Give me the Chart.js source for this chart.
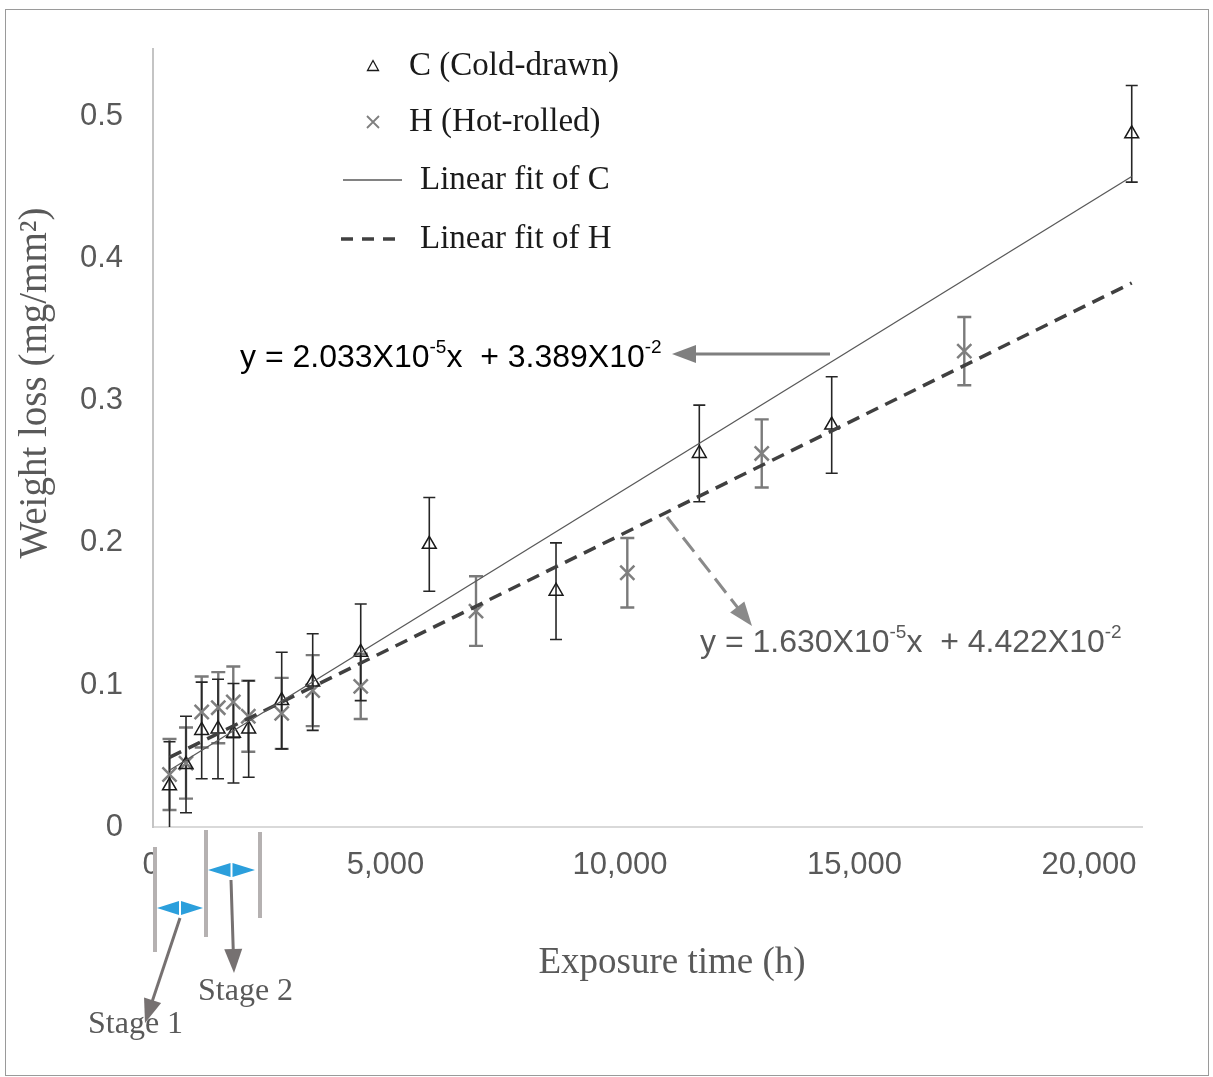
<!DOCTYPE html>
<html><head><meta charset="utf-8">
<script src="https://cdn.jsdelivr.net/npm/chart.js@4/dist/chart.umd.min.js"></script>
<style>html,body{margin:0;padding:0;background:#fff;}#wrap{position:relative;width:1213px;height:1077px;}</style>
</head><body><div id="wrap"><canvas id="c" width="1213" height="1077"></canvas></div>
<script>
// ---- data ----
const hoursC = [352, 704, 1038, 1386, 1716, 2040, 2744, 3405, 4429, 5891, 8593, 11648, 14471, 20868];
const lossC  = [0.029, 0.044, 0.068, 0.069, 0.066, 0.069, 0.089, 0.102, 0.123, 0.199, 0.166, 0.263, 0.283, 0.488];
const errC   = [0.031, 0.034, 0.034, 0.035, 0.035, 0.034, 0.034, 0.034, 0.034, 0.033, 0.034, 0.034, 0.034, 0.034];
const hoursH = [352, 704, 1038, 1392, 1712, 2032, 2744, 3405, 4429, 6887, 10113, 12979, 17298];
const lossH  = [0.037, 0.045, 0.081, 0.084, 0.088, 0.078, 0.080, 0.096, 0.099, 0.152, 0.179, 0.263, 0.335];
const errH   = [0.025, 0.025, 0.025, 0.025, 0.025, 0.025, 0.025, 0.025, 0.023, 0.0245, 0.0245, 0.024, 0.024];
const fitHours = [352, 20868];
const fitC = [0.040, 0.458];
const fitH = [0.049, 0.383];
const xTicks = [0, 5000, 10000, 15000, 20000];
const yTicks = [0, 0.1, 0.2, 0.3, 0.4, 0.5];
const legendLabels = ['C (Cold-drawn)', 'H (Hot-rolled)', 'Linear fit of C', 'Linear fit of H'];
const eqC = ['y = 2.033X10', '-5', 'x  + 3.389X10', '-2'];
const eqH = ['y = 1.630X10', '-5', 'x  + 4.422X10', '-2'];
const xTitle = 'Exposure time (h)';
const yTitle = 'Weight loss (mg/mm\u00B2)';
const stageLabels = ['Stage 1', 'Stage 2'];

const pts = (xs, ys) => xs.map((x, i) => ({x: x, y: ys[i]}));
const SANS = '"Liberation Sans", Arial, sans-serif';
const SERIF = '"Liberation Serif", "Times New Roman", serif';

function drawErr(chart, xs, ys, es, color, lw, cap) {
  const ctx = chart.ctx, xS = chart.scales.x, yS = chart.scales.y;
  ctx.save();
  ctx.beginPath();
  ctx.rect(chart.chartArea.left, chart.chartArea.top, chart.chartArea.right - chart.chartArea.left, chart.chartArea.bottom - chart.chartArea.top);
  ctx.clip();
  ctx.strokeStyle = color; ctx.lineWidth = lw;
  for (let i = 0; i < xs.length; i++) {
    const px = xS.getPixelForValue(xs[i]);
    const lo = ys[i] - es[i];
    const top = yS.getPixelForValue(ys[i] + es[i]);
    const bot = yS.getPixelForValue(Math.max(0, lo));
    ctx.beginPath();
    ctx.moveTo(px, top); ctx.lineTo(px, bot);
    ctx.moveTo(px - cap, top); ctx.lineTo(px + cap, top);
    if (lo > 0) { ctx.moveTo(px - cap, bot); ctx.lineTo(px + cap, bot); }
    ctx.stroke();
  }
  ctx.restore();
}

function arrow(ctx, x1, y1, x2, y2, color, lw, headLen, headW, dash) {
  const dx = x2 - x1, dy = y2 - y1, L = Math.hypot(dx, dy), ux = dx / L, uy = dy / L;
  const bx = x2 - ux * headLen, by = y2 - uy * headLen;
  ctx.save();
  ctx.strokeStyle = color; ctx.fillStyle = color; ctx.lineWidth = lw;
  if (dash) ctx.setLineDash(dash);
  ctx.beginPath(); ctx.moveTo(x1, y1); ctx.lineTo(bx + ux * 2, by + uy * 2); ctx.stroke();
  ctx.setLineDash([]);
  ctx.beginPath();
  ctx.moveTo(x2, y2);
  ctx.lineTo(bx - uy * headW, by + ux * headW);
  ctx.lineTo(bx + uy * headW, by - ux * headW);
  ctx.closePath(); ctx.fill();
  ctx.restore();
}

function blueDouble(ctx, x1, x2, y) {
  const mid = (x1 + x2) / 2;
  ctx.save();
  ctx.fillStyle = '#2b9fdc';
  ctx.beginPath(); ctx.moveTo(x1, y); ctx.lineTo(mid - 1, y - 7); ctx.lineTo(mid - 1, y + 7); ctx.closePath(); ctx.fill();
  ctx.beginPath(); ctx.moveTo(x2, y); ctx.lineTo(mid + 1, y - 7); ctx.lineTo(mid + 1, y + 7); ctx.closePath(); ctx.fill();
  ctx.strokeStyle = '#ffffff'; ctx.lineWidth = 1;
  ctx.beginPath(); ctx.moveTo(mid, y - 7); ctx.lineTo(mid, y - 2); ctx.moveTo(mid, y + 2); ctx.lineTo(mid, y + 7); ctx.stroke();
  ctx.restore();
}

function supText(ctx, parts, x, y, size, color) {
  ctx.save();
  ctx.fillStyle = color; ctx.textBaseline = 'alphabetic'; ctx.textAlign = 'left';
  let cx = x;
  parts.forEach((p, i) => {
    const sup = i % 2 === 1;
    ctx.font = (sup ? Math.round(size * 0.6) : size) + 'px ' + SANS;
    ctx.fillText(p, cx, sup ? y - size * 0.45 : y);
    cx += ctx.measureText(p).width;
  });
  ctx.restore();
}

const errPlugin = {
  id: 'errbars',
  beforeDatasetsDraw(chart) {
    drawErr(chart, hoursH, lossH, errH, '#7a7a7a', 2.4, 7);
    drawErr(chart, hoursC, lossC, errC, '#262626', 1.6, 6);
  }
};

const annoPlugin = {
  id: 'anno',
  afterDraw(chart) {
    const ctx = chart.ctx;
    ctx.save();
    // frame
    ctx.strokeStyle = '#9a9a9a'; ctx.lineWidth = 1;
    ctx.strokeRect(5.5, 9.5, 1203, 1066);

    // axis titles
    ctx.fillStyle = '#595959';
    ctx.textAlign = 'center'; ctx.textBaseline = 'middle';
    ctx.font = '37px ' + SERIF;
    ctx.fillText(xTitle, 672, 963);
    ctx.save();
    ctx.translate(36, 383); ctx.rotate(-Math.PI / 2);
    ctx.font = '39px ' + SERIF;
    ctx.fillText(yTitle, 0, 0);
    ctx.restore();

    // legend
    ctx.fillStyle = '#1a1a1a'; ctx.textAlign = 'left'; ctx.textBaseline = 'middle';
    ctx.font = '33px ' + SERIF;
    ctx.fillText(legendLabels[0], 409, 66);
    ctx.fillText(legendLabels[1], 409, 122);
    ctx.fillText(legendLabels[2], 420, 180);
    ctx.fillText(legendLabels[3], 420, 239);
    ctx.strokeStyle = '#1a1a1a'; ctx.lineWidth = 1.3;
    ctx.beginPath(); ctx.moveTo(373, 60.5); ctx.lineTo(378.5, 70.5); ctx.lineTo(367.5, 70.5); ctx.closePath(); ctx.stroke();
    ctx.strokeStyle = '#7f7f7f'; ctx.lineWidth = 1.8;
    ctx.beginPath(); ctx.moveTo(367, 116); ctx.lineTo(379, 128); ctx.moveTo(379, 116); ctx.lineTo(367, 128); ctx.stroke();
    ctx.strokeStyle = '#595959'; ctx.lineWidth = 1.3;
    ctx.beginPath(); ctx.moveTo(343, 180); ctx.lineTo(402, 180); ctx.stroke();
    ctx.strokeStyle = '#404040'; ctx.lineWidth = 3.5; ctx.setLineDash([12, 9]);
    ctx.beginPath(); ctx.moveTo(341, 239); ctx.lineTo(404, 239); ctx.stroke();
    ctx.setLineDash([]);

    // equations
    supText(ctx, eqC, 240, 367, 32, '#000000');
    supText(ctx, eqH, 700, 652, 32, '#595959');
    arrow(ctx, 830, 354, 672, 354, '#7f7f7f', 3, 24, 9);
    arrow(ctx, 667, 517, 752, 626, '#8a8a8a', 3, 24, 9, [18, 8]);

    // hide right half of the x "0" label
    ctx.fillStyle = '#ffffff';
    ctx.fillRect(157, 850, 8, 34);

    // stage markers
    ctx.strokeStyle = '#b5b1b1'; ctx.lineWidth = 4;
    ctx.beginPath();
    ctx.moveTo(155, 847); ctx.lineTo(155, 952);
    ctx.moveTo(206, 830); ctx.lineTo(206, 937);
    ctx.moveTo(260, 832); ctx.lineTo(260, 918);
    ctx.stroke();
    blueDouble(ctx, 157, 203, 908);
    blueDouble(ctx, 208, 255, 870);
    arrow(ctx, 180, 918, 145, 1023, '#767171', 3, 24, 9);
    arrow(ctx, 231, 880, 234, 973, '#767171', 3, 24, 9);
    ctx.fillStyle = '#595959'; ctx.textAlign = 'left'; ctx.textBaseline = 'middle';
    ctx.font = '32px ' + SERIF;
    ctx.fillText(stageLabels[0], 88, 1025);
    ctx.fillText(stageLabels[1], 198, 992);
    ctx.restore();
  }
};

new Chart(document.getElementById('c'), {
  data: {
    datasets: [
      { type: 'line', label: 'Linear fit of C', data: pts(fitHours, fitC), borderColor: '#595959', borderWidth: 1.3, pointRadius: 0, fill: false },
      { type: 'line', label: 'Linear fit of H', data: pts(fitHours, fitH), borderColor: '#404040', borderWidth: 3.5, borderDash: [13, 8], pointRadius: 0, fill: false },
      { type: 'scatter', label: 'C (Cold-drawn)', data: pts(hoursC, lossC), pointStyle: 'triangle', pointRadius: 8, borderColor: '#1a1a1a', borderWidth: 1.5, backgroundColor: 'rgba(255,255,255,0)' },
      { type: 'scatter', label: 'H (Hot-rolled)', data: pts(hoursH, lossH), pointStyle: 'crossRot', pointRadius: 10, borderColor: '#7f7f7f', borderWidth: 2.5, backgroundColor: '#7f7f7f' }
    ]
  },
  options: {
    responsive: false, animation: false, devicePixelRatio: 1,
    layout: { padding: { left: 0, right: 71, top: 45, bottom: 0 } },
    plugins: { legend: { display: false }, tooltip: { enabled: false }, title: { display: false } },
    scales: {
      x: {
        type: 'linear', min: 0, max: 21087,
        afterFit: s => { s.height = 250; },
        afterBuildTicks: s => { s.ticks = xTicks.map(v => ({ value: v })); },
        grid: { display: false, drawTicks: false },
        border: { display: true, color: '#d9d9d9', width: 2 },
        ticks: { padding: 20, labelOffset: -2, maxRotation: 0, color: '#595959', font: { family: SANS, size: 31 },
          callback: v => v.toLocaleString('en-US') }
      },
      y: {
        type: 'linear', min: 0, max: 0.548,
        afterFit: s => { s.width = 153; },
        afterBuildTicks: s => { s.ticks = yTicks.map(v => ({ value: v })); },
        grid: { display: false, drawTicks: false },
        border: { display: true, color: '#c4c4c4', width: 2 },
        ticks: { padding: 30, color: '#595959', font: { family: SANS, size: 31 },
          callback: v => (v === 0 ? '0' : v.toFixed(1)) }
      }
    }
  },
  plugins: [errPlugin, annoPlugin]
});
</script></body></html>
